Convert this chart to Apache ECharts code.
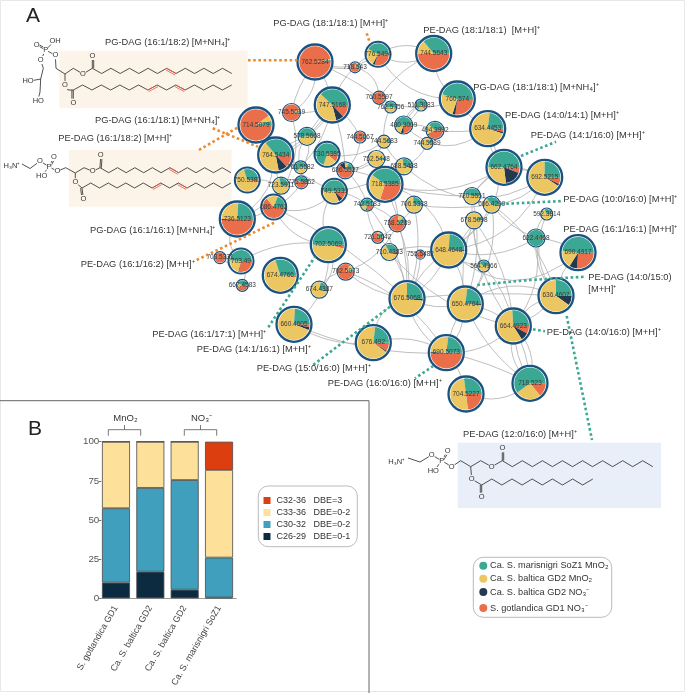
<!DOCTYPE html>
<html><head><meta charset="utf-8">
<style>html,body{margin:0;padding:0;background:#fff}#c{width:685px;height:693px}</style>
<script src="https://cdn.jsdelivr.net/npm/echarts@6/dist/echarts.min.js"></script>
</head><body><div id="c"></div>
<script>
// ---------- Panel A: network ----------
const masses = ['762.5284','745.5019','714.5079','747.5168','764.5434','578.5668','730.5385','750.5381','761.5582','723.5911','775.5852','686.5527','749.5339','686.4762','736.5123','742.5183','776.5494','718.543','744.5643','760.5597','762.5756','760.574','511.3083','480.3069','494.3992','744.5667','744.5683','744.5589','634.4453','752.5448','688.5488','718.5385','662.4764','692.5215','720.5551','706.5388','606.4299','592.3814','678.5098','738.5289','622.4468','721.5642','710.4383','755.5482','648.4648','690.4917','564.4166','702.5069','702.5073','703.49','703.5331','667.4583','674.4766','674.4387','660.4605','676.5068','650.4764','636.4607','664.4923','676.492','690.5073','704.5227','718.523'];
const nodeX = [315,291.5,256,332.3,275.7,307,327,247.3,300.7,281,301.3,345.3,334.3,273.7,237.3,367,378,355,433.7,379,390.7,457.3,421,403.7,435,360,384,427,487.7,376.3,404,385,504,544.7,472,414,491.7,546.7,474,397.3,536,377.7,389.3,420.3,448.7,578,483.7,328.3,345.7,241,220,242.3,280.3,319.3,294,407,465.3,556,513.3,373.3,446.3,466,530];
const nodeY = [62,112.5,125,105,155,136.3,154.3,180,167.3,185.7,182.3,170.3,191.3,207,219,204.7,54.3,67.3,53.5,97.7,107,99,105,125,130.3,137,141.7,143.3,128.7,159,166.3,184.3,167.3,177.3,196,204.7,204.7,214,220.3,223.3,238,237.3,252,254.7,250,252.7,266,244.7,271.7,261,257.7,285.3,275.3,289.7,324.3,298.7,304,295.7,326,342.7,352.7,394,383.3];
const nodeSize = [17.5,9,17.5,17.5,17.5,9,12.5,12.5,6.5,8.5,6.5,8.5,12.5,12.5,17.5,6.5,12.5,5.5,17.5,6.5,6,17.5,6,9,9,6,6.5,6,17.5,8.5,8.5,17.5,17.5,17.5,8.5,8.5,8.5,6,8.5,8.5,9,6,8.5,4.5,17.5,17.5,6,17.5,8.5,12.5,6,6,17.5,8.5,17.5,17.5,17.5,17.5,17.5,17.5,17.5,17.5,17.5];
// pie shares, clockwise from 3 o'clock: S. gotlandica NO3, Ca. S. baltica NO3, Ca. S. baltica MnO2, Ca. S. marisnigri MnO2
const gotlandicaNO3 = [97,95,90,13,13,0,11,3,3,2,55,62,12,64,49,25,30,80,50,98,3,27,12,25,40,95,4,1,3,1,1,30,6,7,0,1,2,1,0,78,0,75,2,100,0,26,0,4,85,28,100,45,2,1,3,0,0,0,8,9,50,23,14];
const balticaNO3    = [0,0,0,8,9,1,0,0,0,0,0,12,6,0,1,3,3,0,0,0,0,3,2,6,2,0,0,1,2,0,3,0,17,2,0,0,2,0,0,0,1,0,3,0,1,8,0,0,0,1,0,0,0,3,3,2,1,10,8,1,1,0,0];
const balticaMnO2   = [1,2,6,41,42,47,19,67,35,70,3,8,32,17,26,20,25,8,14,1,45,25,20,14,20,3,86,85,72,96,68,30,27,66,55,72,60,67,92,10,2,10,62,0,75,18,60,46,10,22,0,12,68,74,70,73,76,65,58,67,26,50,26];
const marisnigriMnO2= [2,3,4,38,36,52,70,30,62,28,42,18,50,19,24,52,42,12,36,1,52,45,66,55,38,2,10,13,23,3,28,40,50,25,45,27,36,32,8,12,97,15,33,0,24,48,40,50,5,49,0,43,30,22,24,25,23,25,26,23,23,27,60];
const edges = [[0,1,.22],[0,1,-.08],[0,3,.08],[0,19,.04],[0,17,-.12],[0,16,-.18],[1,3,-.1],[1,14,.3],
[17,16,.15],[17,3,-.1],[17,19,.25],[16,18,-.2],[16,18,.2],[16,21,-.2],[18,21,-.18],[18,19,-.1],[19,21,-.16],[19,20,.1],[20,26,-.1],
[3,5,.05],[3,5,.12],[3,5,-.05],[5,4,.05],[5,4,-.08],[5,4,.15],[5,8,.2],[5,8,-.2],[3,8,.1],[4,8,.1],[3,11,.05],[3,25,.1],[25,11,.15],[26,6,.15],[26,30,-.1],[26,11,.2],[29,11,.15],[29,31,-.15],
[23,22,.1],[23,22,-.1],[23,22,.2],[23,24,.1],[24,27,.2],[27,30,.15],[30,31,.1],[30,12,.08],[11,12,.1],[11,31,.1],[11,15,.1],[12,15,.1],[4,12,-.05],[9,4,.1],[9,10,.1],[7,9,.1],[9,13,.1],[10,13,.12],
[13,12,-.22],[13,14,.1],[2,14,.35],[14,49,-.3],[49,50,.25],[49,51,.2],[49,47,.12],[13,47,-.2],[12,47,-.2],[47,54,.18],[47,53,.25],[53,48,.2],[48,39,-.15],[13,55,.05],
[54,60,-.08],[54,59,-.12],[59,60,.15],[59,55,.25],[60,61,.1],[60,62,.05],[60,58,-.15],[61,62,-.2],[62,58,.08],[62,58,-.08],[62,58,.2],[62,58,-.2],[58,57,.15],[58,57,-.1],[56,58,.1],[56,55,.12],[55,44,.1],[55,44,-.12],[44,56,.1],[55,57,.03],[56,57,.2],[57,40,.15],[57,45,.12],[40,45,.1],[57,37,.2],[40,37,.15],[40,36,.1],[36,34,.1],[34,32,.1],[32,33,.1],[28,32,-.15],[28,44,.3],[28,24,.05],[28,21,.1],[28,23,.3],[33,36,.15],[33,34,-.3],[31,32,-.15],[31,34,-.05],[30,33,-.25],[35,36,-.05],[35,39,.1],[35,55,.1],[39,55,.1],[39,41,.1],[41,42,.1],[42,55,.12],[42,44,.1],[42,58,-.12],[43,44,.1],[43,55,.1],[38,44,.1],[38,56,-.1],[38,58,.1],[46,56,.1],[46,58,.1],[46,38,.1],[46,44,.15],[44,45,-.3],[44,40,-.15],[36,44,.1],[36,56,.15],[36,57,.12],[34,56,.1],[34,58,-.12],[40,58,.15],[62,56,.1],[60,56,.08],[60,56,-.12],[60,55,.15],[31,55,.08],[31,39,.15],[15,39,.1],[15,41,-.1],[15,55,.1],[48,55,-.1],[48,60,.12],[44,33,-.2],[31,44,.2]];

// leader lines of the annotations, as [x, y] points
const leaderOrange = [[[248,60.3],[298,60.3]],[[212.7,128.3],[258,146.7]],[[199,150],[238,127.3]],[[366.7,33.3],[370,43.3]],[[196.7,260],[275,222.3]]];
const leaderTeal = [[[521,156],[556,141.7]],[[501,204],[562.7,201]],[[477.3,285],[530,280],[585,276.7]],[[533,329.3],[545,331.3]],[[566.7,316],[592,440]],[[268.3,327.3],[315,256.7]],[[390,306.7],[313,365]],[[433.3,366],[415,378.3]]];

const lipidNames = ['PG-DAG (16:1/18:2) [M+NH₄]⁺','PG-DAG (18:1/18:1) [M+H]⁺','PE-DAG (18:1/18:1)  [M+H]⁺','PG-DAG (18:1/18:1) [M+NH₄]⁺','PE-DAG (14:0/14:1) [M+H]⁺','PE-DAG (14:1/16:0) [M+H]⁺','PG-DAG (16:1/18:1) [M+NH₄]⁺','PE-DAG (16:1/18:2) [M+H]⁺','PE-DAG (10:0/16:0) [M+H]⁺','PE-DAG (16:1/16:1) [M+H]⁺','PE-DAG (14:0/15:0)','[M+H]⁺','PE-DAG (14:0/16:0) [M+H]⁺','PG-DAG (16:1/16:1) [M+NH₄]⁺','PE-DAG (16:1/16:2) [M+H]⁺','PE-DAG (16:1/17:1) [M+H]⁺','PE-DAG (14:1/16:1) [M+H]⁺','PE-DAG (15:0/16:0) [M+H]⁺','PE-DAG (16:0/16:0) [M+H]⁺','PE-DAG (12:0/16:0) [M+H]⁺'];
const lipidLabelX = [105,273.3,423.3,473.3,505,530.7,95,58.3,563.3,563.3,588.3,588.3,546.7,90,80.7,152.3,196.7,256.7,327.7,463];
const lipidLabelY = [42,23,30,87.3,115,135,120,138.7,199.3,229.3,277.3,289,332.3,230.7,264.7,334,349.3,368.7,383.3,434];

const networkLegend = ['Ca. S. marisnigri SoZ1 MnO₂','Ca. S. baltica GD2 MnO₂','Ca. S. baltica GD2 NO₃⁻','S. gotlandica GD1 NO₃⁻'];

// ---------- Panel B: stacked bars ----------
const strains = ['S. gotlandica GD1','Ca. S. baltica GD2','Ca. S. baltica GD2','Ca. S. marisnigri SoZ1'];
const c2629 = [10,17,5.5,0.5];
const c3032 = [47.5,53.5,70,25.5];
const c3336 = [42.5,29.5,24.5,56];
const c3236 = [0,0,0,18];
const yTicks = {min:0,max:100,interval:25};

// ---------- styling ----------
const FONT = 'Arial, "Liberation Sans", sans-serif';
const C = {orange:'#eb6e4a',navy:'#22394f',yellow:'#ecc660',teal:'#3aa893',ring:'#1a5380'};
const pieColors = [C.orange,C.navy,C.yellow,C.teal];
const ink = '#333';
const CURVE = 1.5;

const gfx = [];
const rect=(x,y,w,h,fill,stroke,r)=>gfx.push({type:'rect',silent:true,shape:{x,y,width:w,height:h,r:r||0},style:{fill:fill||'none',stroke:stroke||'none',lineWidth:stroke?1:0},z:0});
const line=(pts,color,w)=>gfx.push({type:'polyline',silent:true,shape:{points:pts},style:{fill:'none',stroke:color||'#333',lineWidth:w||.85},z:1});
const text=(t,x,y,size,opt)=>gfx.push({type:'text',silent:true,x,y,z:5,style:Object.assign({text:t,font:size+'px '+FONT,fill:ink,verticalAlign:'middle',align:'left'},opt||{})});
const atom=(t,x,y,bg)=>text(t,x,y,7.5,{align:'center',backgroundColor:bg||'#fff',fill:'#333'});
function dbl(a,b,off,color){const dx=b[0]-a[0],dy=b[1]-a[1],l=Math.hypot(dx,dy),nx=-dy/l*off,ny=dx/l*off;
  line([a,b],color);line([[a[0]+nx,a[1]+ny],[b[0]+nx,b[1]+ny]],color);}
function zig(x0,y0,n,dx,dy,first,reds){const pts=[];for(let i=0;i<=n;i++)pts.push([x0+i*dx,y0+(i%2?first*dy:0)]);
  line(pts);(reds||[]).forEach(i=>{dbl(pts[i],pts[i+1],1.8,'#e8604a');});}

// page and panel frames
rect(.5,.5,684,691,null,'#e8e8e8');
line([[0,400.7],[369,400.7],[369,693]],'#666',1);
text('A',26,16,21,{fill:'#222'});
text('B',28,429,21,{fill:'#222'});
// molecule backgrounds
rect(59.3,50.7,188.4,57.6,'#fdf4e9');
rect(69,150,162.7,56.7,'#fdf4e9');
rect(457.7,442.7,203.3,65.3,'#e9eff8');
const PE='#fdf4e9', BL='#e9eff8';
// PG-DAG 16:1/18:2
line([[45.7,50],[54.3,41]]);line([[45.7,50],[55.3,55.3],[56,68.3],[65,74],[73.3,68.3],[83,74],[92.3,68.3]]);line([[45.7,50],[40.7,60],[43.3,68.3],[40.7,79],[30,81]]);line([[40.7,79],[40,92],[38,100]]);dbl([45.7,50],[36.7,45],1.4);
dbl([92.3,68.3],[92.3,57],1.4);line([[65,74],[65,85],[68,90],[73.3,90]]);dbl([73.3,90],[73.3,102],1.4);
zig(92.3,68.3,15,9.3,5.2,1,[8]);zig(73.3,90,17,9.32,5,-1,[8,11]);
atom('O',36.7,45);atom('P',45.7,50);atom('OH',55,40.5);atom('O',55.3,55.3);atom('O',40.7,60);atom('HO',28,80.5);atom('HO',38.3,100.5);
atom('O',83,74,PE);atom('O',92.3,56,PE);atom('O',65,85,PE);atom('O',73.3,102.7,PE);
// PE-DAG 16:1/18:2
line([[22,164],[30,168.5],[40,161],[49,166.7],[57.3,171.3],[65.7,167.7],[75.3,173],[84,167.7],[92.7,171.3],[100,167.7]]);line([[49,166.7],[42,175.7]]);dbl([49,166.7],[54,157],1.4);
dbl([100,167.7],[100.7,156],1.4);line([[75.3,173],[75.3,182.3],[82,188]]);dbl([82,188],[83.3,198],1.4);
zig(100,167.7,15,8.73,5,1,[8]);zig(82,188,17,8.76,5,-1,[8,11]);
atom('H₃N⁺',12,166);atom('O',40,161);atom('P',49,166.7);atom('O',54,157);atom('O',57.3,171.3);atom('HO',41.7,175.7);
atom('O',92.7,171.3,PE);atom('O',100.7,155,PE);atom('O',75.3,182.3,PE);atom('O',83.3,199,PE);
// PE-DAG 12:0/16:0
line([[408,458],[420,462],[431.7,455],[441.7,460.7],[451.7,466.7],[460.7,460.7],[470.7,466.7],[480.7,460.7],[491.7,466.7],[502.3,460.7]]);line([[441.7,460.7],[434,471]]);dbl([441.7,460.7],[447.7,450.7],1.4);
dbl([502.3,460.7],[502.3,449],1.4);line([[470.7,466.7],[471.7,479],[481.7,485]]);dbl([481.7,485],[481.7,496],1.4);
zig(502.3,460.7,15,10.03,6,1);zig(481.7,485,11,10.1,6,-1);
atom('H₃N⁺',396.7,461.7);atom('O',431.7,455);atom('P',441.7,460.7);atom('O',447.7,450.7);atom('O',451.7,466.7);atom('HO',433.3,471);
atom('O',491.7,466.7,BL);atom('O',502.3,448.3,BL);atom('O',471.7,479,BL);atom('O',481.7,496.7,BL);
// annotations
lipidNames.forEach((n,i)=>text(n,lipidLabelX[i],lipidLabelY[i],9.3));
// network legend
rect(473.3,557.3,138.4,60,'#fff','#bbb',10);
const legendY=[565.7,578.7,592,608], legendColor=[C.teal,C.yellow,C.navy,C.orange];
networkLegend.forEach((n,i)=>{gfx.push({type:'circle',silent:true,shape:{cx:483.3,cy:legendY[i],r:4},style:{fill:legendColor[i]},z:2});text(n,490,legendY[i],9.2);});
// bar legend box, brackets
rect(258.3,486,99,60.7,'#fff','#bbb',10);
[[108.3,140.7,'MnO₂'],[184.3,216.7,'NO₃⁻']].forEach(b=>{const m=(b[0]+b[1])/2;
 line([[b[0],435.7],[b[0],429.7],[b[1],429.7],[b[1],435.7]],'#555',.8);line([[m,429.7],[m,425]],'#555',.8);
 text(b[2],m+1,418,9.5,{align:'center'});});

// ---------- option ----------
const nodeData = masses.map((m,i)=>({name:m,value:[nodeX[i],nodeY[i]],symbolSize:nodeSize[i]*2,
  itemStyle:{color:'#fff',borderColor:C.ring,borderWidth:nodeSize[i]>15?2.3:(nodeSize[i]>10?2:1.2)}}));
const linkData = edges.map(e=>({source:e[0],target:e[1],lineStyle:{curveness:e[2]*CURVE}}));

function renderPie(params,api){
  const i=params.dataIndex, p=api.coord([nodeX[i],nodeY[i]]), size=nodeSize[i];
  const r=size-(size>15?1.8:(size>10?1.5:.9));
  const shares=[gotlandicaNO3[i],balticaNO3[i],balticaMnO2[i],marisnigriMnO2[i]];
  const tot=shares.reduce((a,b)=>a+b,0);
  let a=0; const ch=[];
  shares.forEach((s,k)=>{ if(!s) return; const b=a+s/tot*2*Math.PI;
    ch.push({type:'sector',shape:{cx:p[0],cy:p[1],r,r0:0,startAngle:a,endAngle:b,clockwise:true},style:{fill:pieColors[k]}}); a=b;});
  ch.push({type:'text',style:{text:masses[i],x:p[0],y:p[1],align:'center',verticalAlign:'middle',font:'6.5px '+FONT,fill:'#3a3a3a'},z2:10});
  return {type:'group',children:ch};
}
const leader=(path,color)=>({type:'line',xAxisIndex:0,yAxisIndex:0,data:path,symbol:'none',silent:true,z:4,clip:false,animation:false,
  lineStyle:{color,width:2.6,type:[2.6,2.6]}});
const bar=(name,data,color)=>({name,type:'bar',stack:'lipids',xAxisIndex:1,yAxisIndex:1,data,barWidth:28,silent:true,
  itemStyle:{color,borderColor:'#4a4a4a',borderWidth:.8}});

const barNames=['C32-36   DBE=3','C33-36   DBE=0-2','C30-32   DBE=0-2','C26-29   DBE=0-1'];
const option={
  animation:false,backgroundColor:'#fff',
  textStyle:{fontFamily:FONT},
  grid:[{left:0,top:0,width:685,height:693,containLabel:false},{left:98.8,top:441.7,width:137.4,height:156.6}],
  xAxis:[{type:'value',min:0,max:685,show:false,gridIndex:0},
    {type:'category',gridIndex:1,data:strains,axisLine:{lineStyle:{color:'#999'}},axisTick:{length:3,lineStyle:{color:'#777'},alignWithLabel:true},
      axisLabel:{rotate:60,interval:0,fontSize:9,color:'#444',margin:8,fontFamily:FONT}}],
  yAxis:[{type:'value',min:0,max:693,inverse:true,show:false,gridIndex:0},
    {type:'value',gridIndex:1,min:yTicks.min,max:yTicks.max,interval:yTicks.interval,offset:-2.5,splitLine:{show:false},axisLine:{show:false},
      axisTick:{show:true,length:2.5,lineStyle:{color:'#777'}},axisLabel:{fontSize:9.8,color:'#555',margin:2,fontFamily:FONT}}],
  legend:{data:barNames,orient:'vertical',left:263.5,top:496,itemWidth:7,itemHeight:7,itemGap:3,padding:0,icon:'rect',z:6,
    selectedMode:false,itemStyle:{borderWidth:0},textStyle:{fontSize:9,color:'#333',padding:[0,0,0,1],fontFamily:FONT}},
  graphic:{elements:gfx},
  series:[
    {type:'graph',coordinateSystem:'cartesian2d',xAxisIndex:0,yAxisIndex:0,layout:'none',silent:true,roam:false,z:2,
      data:nodeData,links:linkData,symbol:'circle',label:{show:false},lineStyle:{color:'#aeaeae',width:.8,opacity:1}},
    {type:'custom',xAxisIndex:0,yAxisIndex:0,data:masses.map((m,i)=>[nodeX[i],nodeY[i]]),renderItem:renderPie,silent:true,z:3,clip:false,encode:{x:0,y:1}},
    ...leaderOrange.map(p=>leader(p,'#ef8a2c')),
    ...leaderTeal.map(p=>leader(p,'#3aa893')),
    bar(barNames[3],c2629,'#0c2b40'),
    bar(barNames[2],c3032,'#3f9fbd'),
    bar(barNames[1],c3336,'#fde09a'),
    bar(barNames[0],c3236,'#dc3e10')
  ]
};
echarts.init(document.getElementById('c'),null,{renderer:'canvas'}).setOption(option);
</script></body></html>
